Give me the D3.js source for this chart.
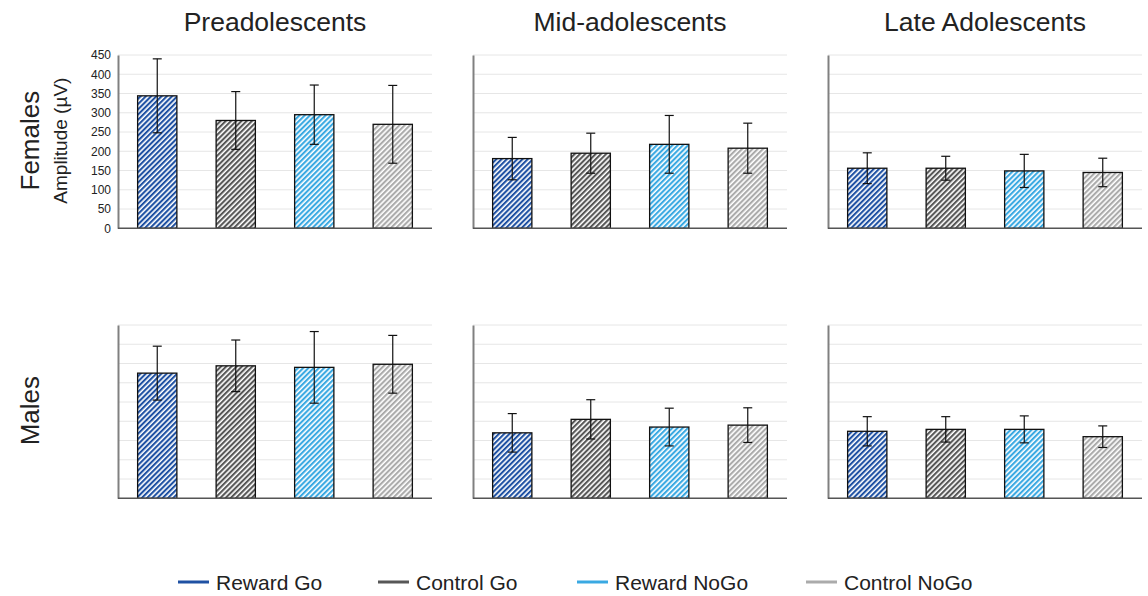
<!DOCTYPE html>
<html>
<head>
<meta charset="utf-8">
<script src="https://cdn.jsdelivr.net/npm/d3@7"></script>
<style>
  html, body { margin: 0; padding: 0; background: #fff; }
  svg { display: block; font-family: "Liberation Sans", Arial, Helvetica, sans-serif; }
</style>
</head>
<body>
<svg id="chart" width="1148" height="596"></svg>
<script>
// Age groups (columns), sexes (rows) and task conditions (bars)
const ageGroups = ["Preadolescents", "Mid-adolescents", "Late Adolescents"];
const sexes = ["Females", "Males"];
const conditions = ["Reward Go", "Control Go", "Reward NoGo", "Control NoGo"];
const conditionColors = ["#1f51a3", "#575757", "#3aa9e2", "#ababab"];

// Mean amplitude (µV) per age group, in condition order
const femaleMeans = [
  [344, 280, 295, 270],
  [181, 195, 218, 208],
  [156, 156, 149, 145]
];
const femaleErrors = [
  [96, 75, 77, 101],
  [55, 52, 75, 65],
  [40, 31, 43, 37]
];
const maleMeans = [
  [325, 344, 340, 348],
  [170, 205, 185, 190],
  [174, 179, 179, 160]
];
const maleErrors = [
  [70, 67, 93, 75],
  [50, 51, 49, 45],
  [38, 33, 35, 28]
];
const yTicks = [0, 50, 100, 150, 200, 250, 300, 350, 400, 450];

const svg = d3.select("#chart");

// Diagonal hatch fill for each condition
const defs = svg.append("defs");
conditions.forEach((c, i) => {
  const p = defs.append("pattern")
    .attr("id", "hatch" + i)
    .attr("patternUnits", "userSpaceOnUse")
    .attr("width", 3.7).attr("height", 3.7)
    .attr("patternTransform", "rotate(45)");
  p.append("rect").attr("width", 3.7).attr("height", 3.7).attr("fill", "#fff");
  p.append("rect").attr("width", 2.1).attr("height", 3.7).attr("fill", conditionColors[i]);
});

// Layout
const panelLeft = [118, 473, 828];
const panelWidth = 314;
const rowTop = [55, 325];
const rowHeight = 173.3;

const rows = [
  { means: femaleMeans, errors: femaleErrors },
  { means: maleMeans, errors: maleErrors }
];

rows.forEach((row, r) => {
  const y = d3.scaleLinear().domain([0, 450]).range([rowTop[r] + rowHeight, rowTop[r]]);

  ageGroups.forEach((g, c) => {
    const x = d3.scaleBand()
      .domain(conditions)
      .range([panelLeft[c], panelLeft[c] + panelWidth])
      .paddingInner(0.5)
      .paddingOuter(0.25);

    const panel = svg.append("g");

    // horizontal gridlines
    panel.append("g").selectAll("line")
      .data(yTicks.filter(t => t > 0))
      .join("line")
      .attr("x1", panelLeft[c]).attr("x2", panelLeft[c] + panelWidth)
      .attr("y1", d => y(d)).attr("y2", d => y(d))
      .attr("stroke", "#e6e6e6").attr("stroke-width", 1);

    // y axis (labels only in the first column)
    const axis = d3.axisLeft(y).tickValues(yTicks).tickSize(0).tickPadding(7);
    const ag = panel.append("g")
      .attr("transform", `translate(${panelLeft[c]},0)`)
      .call(axis);
    ag.select(".domain").attr("stroke", "#808080").attr("stroke-width", 2);
    ag.selectAll("text")
      .attr("font-size", 12)
      .attr("fill", "#222")
      .attr("font-family", "'Liberation Sans', Arial, sans-serif")
      .style("display", c === 0 && r === 0 ? null : "none");

    // bars
    panel.append("g").selectAll("rect")
      .data(conditions)
      .join("rect")
      .attr("x", d => x(d))
      .attr("width", x.bandwidth())
      .attr("y", (d, i) => y(row.means[c][i]))
      .attr("height", (d, i) => y(0) - y(row.means[c][i]))
      .attr("fill", (d, i) => `url(#hatch${i})`)
      .attr("stroke", "#111")
      .attr("stroke-width", 1.3);

    // baseline
    panel.append("line")
      .attr("x1", panelLeft[c]).attr("x2", panelLeft[c] + panelWidth)
      .attr("y1", y(0)).attr("y2", y(0))
      .attr("stroke", "#555").attr("stroke-width", 1.5);

    // error bars
    const eb = panel.append("g").selectAll("g")
      .data(conditions)
      .join("g")
      .attr("stroke", "#111").attr("stroke-width", 1.2);
    const cx = d => x(d) + x.bandwidth() / 2;
    eb.append("line")
      .attr("x1", cx).attr("x2", cx)
      .attr("y1", (d, i) => y(row.means[c][i] + row.errors[c][i]))
      .attr("y2", (d, i) => y(row.means[c][i] - row.errors[c][i]));
    eb.append("line")
      .attr("x1", d => cx(d) - 4.5).attr("x2", d => cx(d) + 4.5)
      .attr("y1", (d, i) => y(row.means[c][i] + row.errors[c][i]))
      .attr("y2", (d, i) => y(row.means[c][i] + row.errors[c][i]));
    eb.append("line")
      .attr("x1", d => cx(d) - 4.5).attr("x2", d => cx(d) + 4.5)
      .attr("y1", (d, i) => y(row.means[c][i] - row.errors[c][i]))
      .attr("y2", (d, i) => y(row.means[c][i] - row.errors[c][i]));
  });

  // row label
  svg.append("text")
    .attr("transform", `translate(39,${rowTop[r] + rowHeight / 2 - 1}) rotate(-90)`)
    .attr("text-anchor", "middle")
    .attr("font-size", 26)
    .attr("fill", "#222")
    .text(sexes[r]);
});

// y axis title
svg.append("text")
  .attr("transform", `translate(67,${rowTop[0] + rowHeight / 2 - 1}) rotate(-90)`)
  .attr("text-anchor", "middle")
  .attr("font-size", 19)
  .attr("fill", "#222")
  .text("Amplitude (µV)");

// column titles
ageGroups.forEach((g, c) => {
  svg.append("text")
    .attr("x", panelLeft[c] + panelWidth / 2)
    .attr("y", 31)
    .attr("text-anchor", "middle")
    .attr("font-size", 26.5)
    .attr("fill", "#222")
    .text(g);
});

// legend
const legendX = [178, 378, 577, 806];
const legend = svg.append("g").selectAll("g")
  .data(conditions)
  .join("g")
  .attr("transform", (d, i) => `translate(${legendX[i]},582)`);
legend.append("line")
  .attr("x1", 0).attr("x2", 31)
  .attr("stroke", (d, i) => conditionColors[i])
  .attr("stroke-width", 3);
legend.append("text")
  .attr("x", 38).attr("y", 7.5)
  .attr("font-size", 21)
  .attr("fill", "#222")
  .text(d => d);
</script>
</body>
</html>
